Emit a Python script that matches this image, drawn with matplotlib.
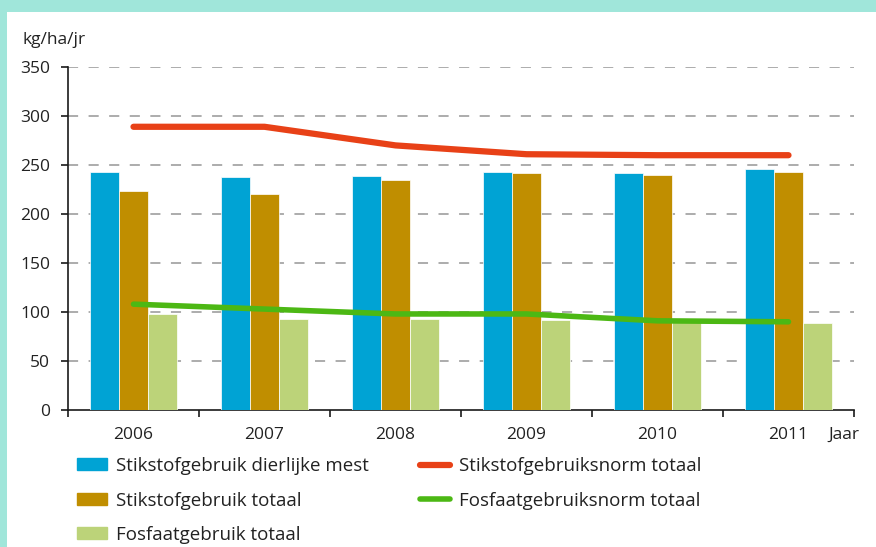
import numpy as np
import matplotlib.pyplot as plt
from matplotlib.patches import Rectangle
from matplotlib.lines import Line2D

plt.rcParams['font.family'] = ['Open Sans', 'DejaVu Sans']

# data (kg/ha/jr)
jaren = ['2006', '2007', '2008', '2009', '2010', '2011']
n_dierlijk = [243, 238, 239, 243, 242, 246]
n_totaal = [223, 220, 235, 242, 240, 243]
p_totaal = [98, 93, 93, 92, 90, 89]
n_norm = [289, 289, 270, 261, 260, 260]
p_norm = [108, 103, 98, 98, 91, 90]

c_blauw = '#00A3D4'
c_goud = '#C08E00'
c_lgroen = '#BCD379'
c_rood = '#E84117'
c_groen = '#4CB814'

W, H = 876, 547
fig = plt.figure(figsize=(W / 100, H / 100), dpi=100)
fig.patch.set_facecolor('#A0E6DA')
fig.patches.append(Rectangle((7 / W, 0), 1, 1 - 12 / H, transform=fig.transFigure,
                             facecolor='white', edgecolor='none', zorder=-5))

ax = fig.add_axes([68 / W, 1 - 410 / H, 786 / W, 343 / H])
ax.set_facecolor('none')

x = np.arange(len(jaren))
bw = 0.22
ax.bar(x - bw, n_dierlijk, bw, color=c_blauw, edgecolor='white', lw=0.5, zorder=3)
ax.bar(x, n_totaal, bw, color=c_goud, edgecolor='white', lw=0.5, zorder=3)
ax.bar(x + bw, p_totaal, bw, color=c_lgroen, edgecolor='white', lw=0.5, zorder=3)
ax.plot(x, n_norm, color=c_rood, lw=4.5, solid_capstyle='round', zorder=4)
ax.plot(x, p_norm, color=c_groen, lw=4.0, solid_capstyle='round', zorder=4)

ax.set_xlim(-0.5, len(jaren) - 0.5)
ax.set_ylim(0, 350)
ax.set_yticks(range(0, 351, 50))
for v in range(50, 351, 50):
    ax.axhline(v, color='#A6A6A6', lw=1.3, dashes=(5.6, 5.8), zorder=1)

for s in ['top', 'right']:
    ax.spines[s].set_visible(False)
for s in ['left', 'bottom']:
    ax.spines[s].set_linewidth(1.2)
    ax.spines[s].set_color('#1a1a1a')

ax.set_xticks(x)
ax.set_xticklabels(jaren)
ax.set_xticks(np.arange(-0.5, len(jaren), 1), minor=True)
ax.tick_params(axis='x', which='major', length=0, pad=12, labelsize=12.5, colors='#222222')
ax.tick_params(axis='x', which='minor', length=5, width=1.2, color='#1a1a1a')
ax.tick_params(axis='y', length=5, width=1.2, pad=8, labelsize=12.5, colors='#222222')
ax.tick_params(axis='y', color='#1a1a1a')

fig.text(22 / W, 1 - 40 / H, 'kg/ha/jr', fontsize=12.5, color='#222222', va='center', ha='left')
fig.text(828 / W, 1 - 435 / H, 'Jaar', fontsize=12.5, color='#222222', va='center', ha='left')

handles = [
    Rectangle((0, 0), 1, 1, color=c_blauw),
    Rectangle((0, 0), 1, 1, color=c_goud),
    Rectangle((0, 0), 1, 1, color=c_lgroen),
    Line2D([], [], color=c_rood, lw=4.5, solid_capstyle='round'),
    Line2D([], [], color=c_groen, lw=4.0, solid_capstyle='round'),
]
labels = ['Stikstofgebruik dierlijke mest', 'Stikstofgebruik totaal', 'Fosfaatgebruik totaal',
          'Stikstofgebruiksnorm totaal', 'Fosfaatgebruiksnorm totaal']
fig.legend(handles, labels, ncol=2, loc='upper left', bbox_to_anchor=(77 / W, 1 - 457 / H),
           frameon=False, fontsize=13.5, handlelength=1.6, handleheight=0.6, handletextpad=0.5,
           labelspacing=0.88, columnspacing=2.7, borderpad=0, borderaxespad=0,
           labelcolor='#222222')

fig.savefig('out.png', dpi=100, facecolor=fig.get_facecolor())
